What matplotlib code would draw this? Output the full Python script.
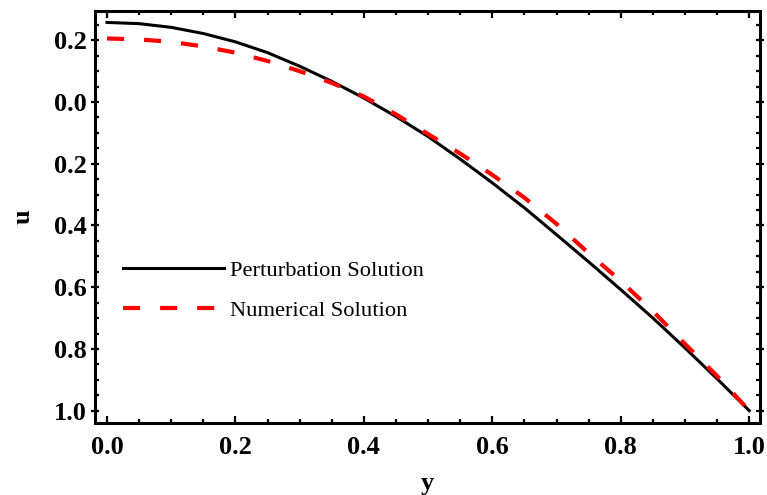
import matplotlib
matplotlib.use("Agg")
import matplotlib.pyplot as plt
from matplotlib.ticker import MultipleLocator, FixedLocator

# values
y_vals = [0.0, 0.05, 0.1, 0.15, 0.2, 0.25, 0.3, 0.35, 0.4, 0.45, 0.5,
          0.55, 0.6, 0.65, 0.7, 0.75, 0.8, 0.85, 0.9, 0.95, 1.0]
u_perturbation = [0.258, 0.254, 0.242, 0.222, 0.195, 0.160, 0.116, 0.067, 0.013, -0.047, -0.112,
                  -0.185, -0.262, -0.343, -0.430, -0.518, -0.608, -0.700, -0.797, -0.897, -1.0]
u_numerical = [0.206, 0.203, 0.195, 0.180, 0.160, 0.133, 0.100, 0.062, 0.018, -0.040, -0.104,
               -0.167, -0.236, -0.310, -0.395, -0.490, -0.580, -0.678, -0.784, -0.888, -1.0]

y_ticks = [0.2, 0.0, -0.2, -0.4, -0.6, -0.8, -1.0]
y_tick_labels = ["0.2", "0.0", "0.2", "0.4", "0.6", "0.8", "1.0"]
x_ticks = [0.0, 0.2, 0.4, 0.6, 0.8, 1.0]
x_tick_labels = ["0.0", "0.2", "0.4", "0.6", "0.8", "1.0"]

plt.rcParams['font.family'] = ['Liberation Serif', 'DejaVu Serif']

fig = plt.figure(figsize=(7.67, 4.95), dpi=100)
ax = fig.add_axes([95 / 767, 1 - 423 / 495, 665 / 767, 412 / 495])

ax.plot(y_vals, u_perturbation, color="black", lw=2.2, label="Perturbation Solution")
ax.plot(y_vals, u_numerical, color="#ff0000", lw=3.0, dashes=(4.1, 4.8),
        label="Numerical Solution")

ax.set_xlim(-0.0187, 1.0167)
ax.set_ylim(-1.04, 0.295)

ax.xaxis.set_major_locator(FixedLocator(x_ticks))
ax.set_xticklabels(x_tick_labels)
ax.yaxis.set_major_locator(FixedLocator(y_ticks))
ax.set_yticklabels(y_tick_labels)
ax.xaxis.set_minor_locator(MultipleLocator(0.05))
ax.yaxis.set_minor_locator(MultipleLocator(0.05))

for sp in ax.spines.values():
    sp.set_linewidth(2.2)

ax.tick_params(axis="both", which="both", top=True, right=True, width=1.6)
ax.tick_params(axis="x", which="major", direction="in", length=5, pad=9)
ax.tick_params(axis="y", which="major", direction="inout", length=6, pad=3)
ax.tick_params(axis="both", which="minor", direction="in", length=3)
for lab in ax.get_xticklabels() + ax.get_yticklabels():
    lab.set_fontsize(19)
    lab.set_fontweight("bold")

ax.set_xlabel("y", fontsize=19, fontweight="bold", labelpad=10)
ax.set_ylabel("u", fontsize=19, fontweight="bold", labelpad=14)

ax.legend(loc="center left", bbox_to_anchor=(0.042, 0.322), frameon=False,
          fontsize=16.2, handlelength=4.5, handletextpad=0.25, labelspacing=0.87,
          borderpad=0, borderaxespad=0)

fig.savefig("out.png", dpi=100)
